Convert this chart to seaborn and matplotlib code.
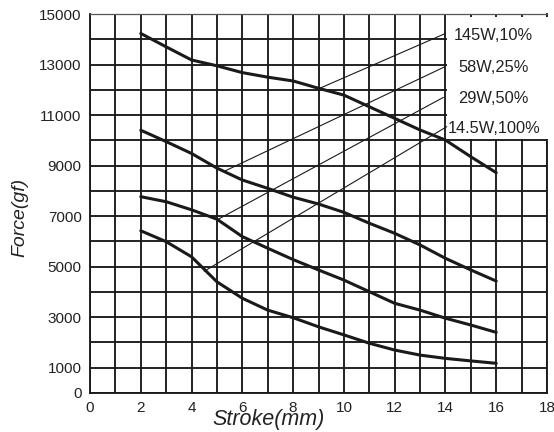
import matplotlib
matplotlib.use("Agg")
import matplotlib.pyplot as plt
import pandas as pd
import seaborn as sns
from matplotlib.patches import Rectangle

# ─── DATA ────────────────────────────────────────────────────────────────────
stroke = [2, 3, 4, 5, 6, 7, 8, 9, 10, 11, 12, 13, 14, 15, 16]
force_145w = [14230, 13700, 13180, 12950, 12680, 12500, 12350, 12060, 11790,
              11330, 10870, 10410, 10010, 9350, 8720]
force_58w = [10400, 9950, 9480, 8900, 8430, 8100, 7750, 7480, 7150,
             6720, 6320, 5860, 5330, 4870, 4430]
force_29w = [7770, 7570, 7250, 6880, 6190, 5730, 5280, 4870, 4470,
             4010, 3550, 3280, 2960, 2690, 2400]
force_14w = [6420, 5990, 5390, 4400, 3750, 3280, 2980, 2620, 2300,
             1970, 1700, 1500, 1370, 1270, 1175]

labels = ["145W,10%", "58W,25%", "29W,50%", "14.5W,100%"]
label_y = [14140, 12900, 11650, 10460]

# leader lines: curve point -> label
lead_x0 = [9.05, 5.3, 5.0, 4.5]
lead_y0 = [12060, 8780, 6850, 4820]
lead_x1 = [14.0, 13.95, 13.92, 14.05]
lead_y1 = [14230, 12900, 11700, 10540]

xticks = list(range(0, 19, 2))
yticks = list(range(0, 15001, 1000))
ytick_labels = ["0", "1000", "", "3000", "", "5000", "", "7000", "", "9000",
                "", "11000", "", "13000", "", "15000"]

df = pd.DataFrame({
    "stroke": stroke * 4,
    "force": force_145w + force_58w + force_29w + force_14w,
    "curve": sum([[lab] * len(stroke) for lab in labels], []),
})

# ─── STYLE ───────────────────────────────────────────────────────────────────
sns.set_style("white")
plt.rcParams["font.family"] = ["Liberation Sans", "DejaVu Sans"]
INK = "#1a1a1a"

fig = plt.figure(figsize=(5.54, 4.32), dpi=100)
ax = fig.add_axes([90 / 554, 1 - 393 / 432, 457 / 554, 379 / 432])

sns.lineplot(data=df, x="stroke", y="force", hue="curve",
             palette=[INK] * 4, linewidth=2.2, legend=False, ax=ax, zorder=3)

for x0, y0, x1, y1 in zip(lead_x0, lead_y0, lead_x1, lead_y1):
    ax.plot([x0, x1], [y0, y1], color=INK, lw=0.8, zorder=3)

ax.set_xlim(0, 18)
ax.set_ylim(0, 15000)
ax.set_xticks(list(range(0, 19)), minor=True)
ax.set_xticks(xticks)
ax.set_yticks(yticks)
ax.set_yticklabels(ytick_labels)
ax.grid(True, which="both", color=INK, lw=1.35)
ax.set_axisbelow(True)
ax.tick_params(which="both", length=0, labelsize=11, colors="#222222", pad=6)

for s in ax.spines.values():
    s.set_color(INK)
    s.set_linewidth(1.35)
ax.spines["top"].set_color("#555555")
ax.spines["top"].set_linewidth(0.9)

# white label box over the grid
ax.add_patch(Rectangle((14.07, 10070), 3.95, 4810, facecolor="white",
                       edgecolor="none", zorder=2.6, clip_on=False))
for lab, y in zip(labels, label_y):
    ax.text(15.9, y, lab, ha="center", va="center", fontsize=11.8,
            color="#222222", zorder=4)

ax.set_xlabel("")
ax.set_ylabel("")
fig.text(269 / 554, 1 - 420 / 432, "Stroke(mm)", ha="center", va="center",
         fontsize=15.5, style="italic", color="#222222")
fig.text(20 / 554, 1 - 217 / 432, "Force(gf)", ha="center", va="center",
         fontsize=14, style="italic", rotation=90, color="#222222")

fig.savefig("out.png", dpi=100)
